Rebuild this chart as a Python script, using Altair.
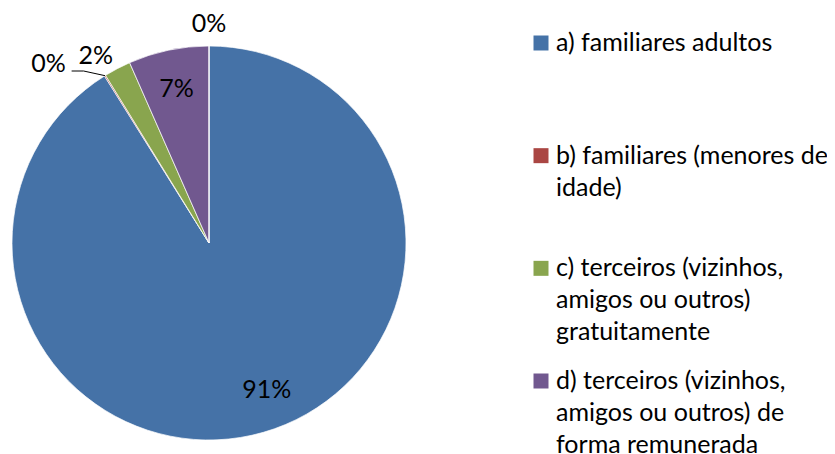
import altair as alt
import pandas as pd

# ---- data ----
categories = [
    "a) familiares adultos",
    "b) familiares (menores de idade)",
    "c) terceiros (vizinhos, amigos ou outros) gratuitamente",
    "d) terceiros (vizinhos, amigos ou outros) de forma remunerada",
    "e)",
]
shares = [91.1, 0.1, 2.2, 6.6, 0.0]
legend_lines = [
    ["a) familiares adultos"],
    ["b) familiares (menores de", "idade)"],
    ["c) terceiros (vizinhos,", "amigos ou outros)", "gratuitamente"],
    ["d) terceiros (vizinhos,", "amigos ou outros) de", "forma remunerada"],
]
colors = ["#4572A7", "#AA4643", "#89A54E", "#71588F", "#4198AF"]

# ---- layout / style ----
W, H = 819, 446
CX, CY, R = 201, 235, 197
FONT = "Lato"
FS = 25

df = pd.DataFrame({"cat": categories, "v": shares, "idx": list(range(len(categories)))})
color_scale = alt.Scale(domain=categories, range=colors)

base = alt.Chart(df)

arcs = base.mark_arc(radius=R, stroke="white", strokeWidth=0.7).encode(
    theta=alt.Theta("v:Q", stack=True),
    order=alt.Order("idx:Q"),
    color=alt.Color("cat:N", scale=color_scale, legend=None),
    x=alt.value(CX),
    y=alt.value(CY),
)

lab_base = base.transform_joinaggregate(total="sum(v)").transform_window(
    cum="sum(v)", sort=[alt.SortField("idx")], frame=[None, 0]
).transform_calculate(
    mid="(datum.cum - datum.v/2) / datum.total * 2 * PI",
    nudge="datum.idx == 0 ? -5.5 : (datum.idx == 1 ? -10 : (datum.idx == 2 ? -3.5 : 0))",
    r=f"datum.v >= 5 ? {0.8*R} : (datum.idx == 1 ? {1.22*R} : {1.11*R})",
    ang="datum.mid + datum.nudge * PI / 180",
    lx=f"{CX} + datum.r * sin(datum.ang)",
    ly=f"{CY} - datum.r * cos(datum.ang)",
    ex=f"{CX} + {R} * sin(datum.mid)",
    ey=f"{CY} - {R} * cos(datum.mid)",
    lab="format(datum.v / 100, '.0%')",
)

labels = lab_base.mark_text(font=FONT, fontSize=FS, color="black", align="center", baseline="middle").encode(
    x=alt.X("lx:Q", scale=None),
    y=alt.Y("ly:Q", scale=None),
    text="lab:N",
)

lead1 = lab_base.transform_filter("datum.idx == 1").mark_rule(color="black", strokeWidth=1).encode(
    x=alt.X("sx:Q", scale=None),
    y=alt.Y("sy:Q", scale=None),
    x2="mx:Q",
    y2="sy:Q",
).transform_calculate(sx="datum.lx + 23", sy="datum.ly + 7", mx="datum.lx + 35")

lead2 = lab_base.transform_filter("datum.idx == 1").mark_rule(color="black", strokeWidth=1).encode(
    x=alt.X("mx:Q", scale=None),
    y=alt.Y("sy:Q", scale=None),
    x2="ex:Q",
    y2="ey:Q",
).transform_calculate(sy="datum.ly + 7", mx="datum.lx + 35")

leg_df = pd.DataFrame({"cat": categories[:4], "lines": legend_lines})
leg_y = alt.Y("cat:N", scale=alt.Scale(type="point", domain=categories[:4], range=[35, 373], padding=0), axis=None)

leg_sym = alt.Chart(leg_df).mark_square(size=225, opacity=1).encode(
    x=alt.value(533),
    y=leg_y,
    color=alt.Color("cat:N", scale=color_scale, legend=None),
)
leg_txt = alt.Chart(leg_df).mark_text(
    font=FONT, fontSize=FS, color="black", align="left", baseline="alphabetic", lineHeight=32, dy=8
).encode(
    x=alt.value(548),
    y=leg_y,
    text="lines",
)

chart = alt.layer(arcs, labels, lead1, lead2, leg_sym, leg_txt).resolve_scale(
    x="independent", y="independent"
).properties(
    width=W, height=H, autosize=alt.AutoSizeParams(type="none"), padding=0
).configure_view(stroke=None)

chart.save("out.html", embed_options={"renderer": "svg", "actions": False})
